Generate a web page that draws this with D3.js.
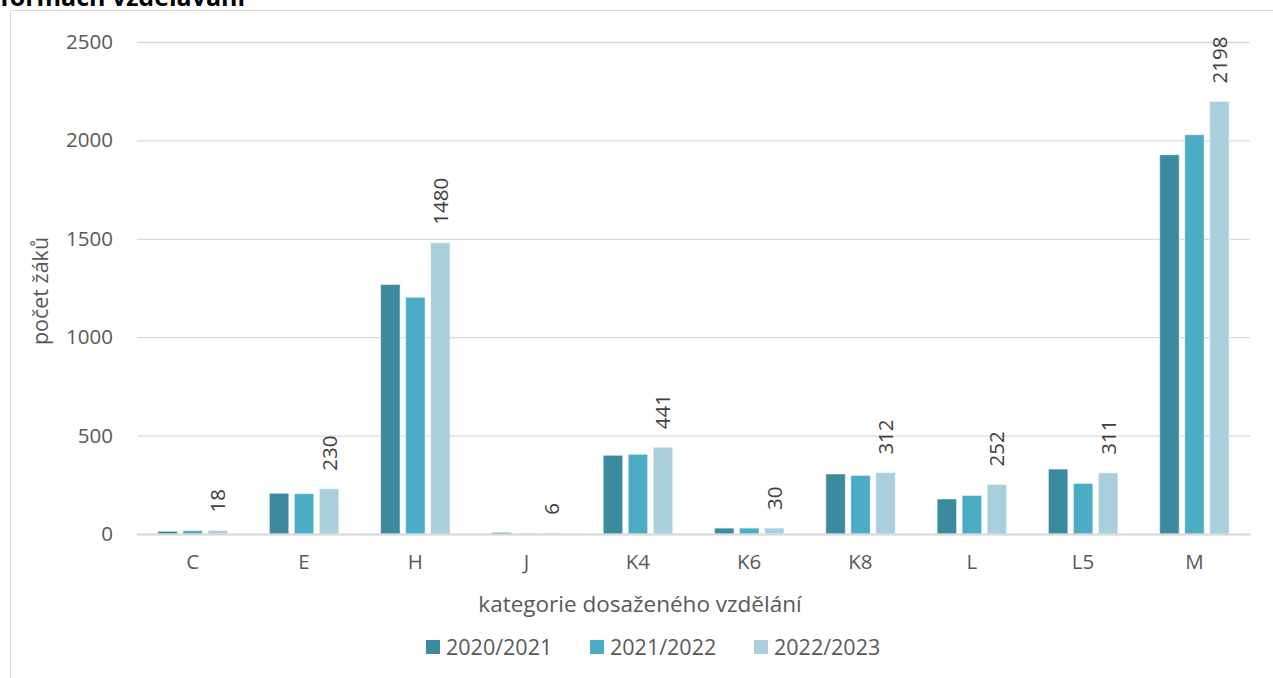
<!DOCTYPE html>
<html><head><meta charset="utf-8">
<script src="https://cdn.jsdelivr.net/npm/d3@7"></script>
<style>
html,body{margin:0;padding:0;background:#fff;}
svg{display:block;font-family:"Open Sans",sans-serif;}
</style></head>
<body>
<svg id="chart" width="1273" height="678"></svg>
<script>
const categories = ["C","E","H","J","K4","K6","K8","L","L5","M"];
const seriesNames = ["2020/2021","2021/2022","2022/2023"];
const values2020 = [14, 207, 1268, 8, 400, 30, 305, 178, 330, 1927];
const values2021 = [17, 205, 1203, 2, 405, 30, 298, 196, 257, 2029];
const values2022 = [18, 230, 1480, 6, 441, 30, 312, 252, 311, 2198];
const yTicks = [0, 500, 1000, 1500, 2000, 2500];
const colors = ["#3B8AA0", "#4BACC6", "#A9CFDD"];
const titleText = "formách vzdělávání";
const xTitle = "kategorie dosaženého vzdělání";
const yTitle = "počet žáků";

(function(){
const series = [values2020, values2021, values2022];
const svg = d3.select("#chart");

svg.append("rect").attr("x",10.5).attr("y",10.5).attr("width",1300).attr("height",700)
  .attr("fill","none").attr("stroke","#d9d9d9").attr("stroke-width",1);

svg.append("text").attr("x",0).attr("y",6).attr("font-weight","bold").attr("font-size",25)
  .attr("fill","#000").text(titleText);

const pL = 137, pR = 1250, pT = 42, pB = 534;
const y = d3.scaleLinear().domain([0,2500]).range([pB, pT]);
const x0 = d3.scaleBand().domain(categories).range([pL,pR]).padding(0);
const x1 = d3.scaleBand().domain([0,1,2]).range([21, 90.5]).paddingInner(0.22).paddingOuter(0);

const yAxis = d3.axisLeft(y).tickValues(yTicks).tickFormat(d3.format("d")).tickSize(-(pR-pL)).tickPadding(24);
const gy = svg.append("g").attr("transform",`translate(${pL},0)`).call(yAxis);
gy.select(".domain").remove();
gy.selectAll(".tick line").attr("stroke","#d9d9d9").attr("stroke-width",1.3);
gy.selectAll(".tick text").attr("font-size",20.5).attr("fill","#595959")
  .attr("font-family","Open Sans, sans-serif");

const groups = svg.append("g").selectAll("g").data(categories).join("g")
  .attr("transform", d => `translate(${x0(d)},0)`);
groups.selectAll("rect").data((d,i) => series.map((s,k) => ({k, v: s[i]}))).join("rect")
  .attr("x", d => x1(d.k))
  .attr("width", x1.bandwidth())
  .attr("y", d => y(d.v))
  .attr("height", d => pB - y(d.v))
  .attr("fill", d => colors[d.k])
  .attr("stroke","#ffffff").attr("stroke-opacity",0.55).attr("stroke-width",1);

const xAxis = d3.axisBottom(x0).tickSize(0).tickPadding(20);
const gx = svg.append("g").attr("transform",`translate(0,${pB})`).call(xAxis);
gx.select(".domain").attr("stroke","#d9d9d9").attr("stroke-width",2);
gx.selectAll(".tick text").attr("font-size",20.5).attr("fill","#595959")
  .attr("font-family","Open Sans, sans-serif");

svg.append("g").selectAll("text").data(categories).join("text")
  .attr("transform", (d,i) => {
    const cx = x0(d) + x1(2) + x1.bandwidth()/2;
    const ty = y(values2022[i]) - 18;
    return `translate(${cx + 7.5},${ty}) rotate(-90)`;
  })
  .attr("text-anchor","start")
  .attr("font-size",20.5).attr("fill","#404040")
  .text((d,i) => values2022[i]);

svg.append("text").attr("x", 640).attr("y", 612).attr("text-anchor","middle")
  .attr("font-size",22.5).attr("fill","#595959").text(xTitle);
svg.append("text").attr("transform","translate(48,291) rotate(-90)").attr("text-anchor","middle")
  .attr("font-size",21.5).attr("fill","#595959").text(yTitle);

const legend = svg.append("g").selectAll("g").data(seriesNames).join("g")
  .attr("transform",(d,i) => `translate(${426 + i*164},640)`);
legend.append("rect").attr("width",14).attr("height",14).attr("fill",(d,i)=>colors[i]);
legend.append("text").attr("x",20).attr("y",14.5).attr("font-size",21.5).attr("fill","#595959").text(d=>d);
})();
</script>
</body></html>
